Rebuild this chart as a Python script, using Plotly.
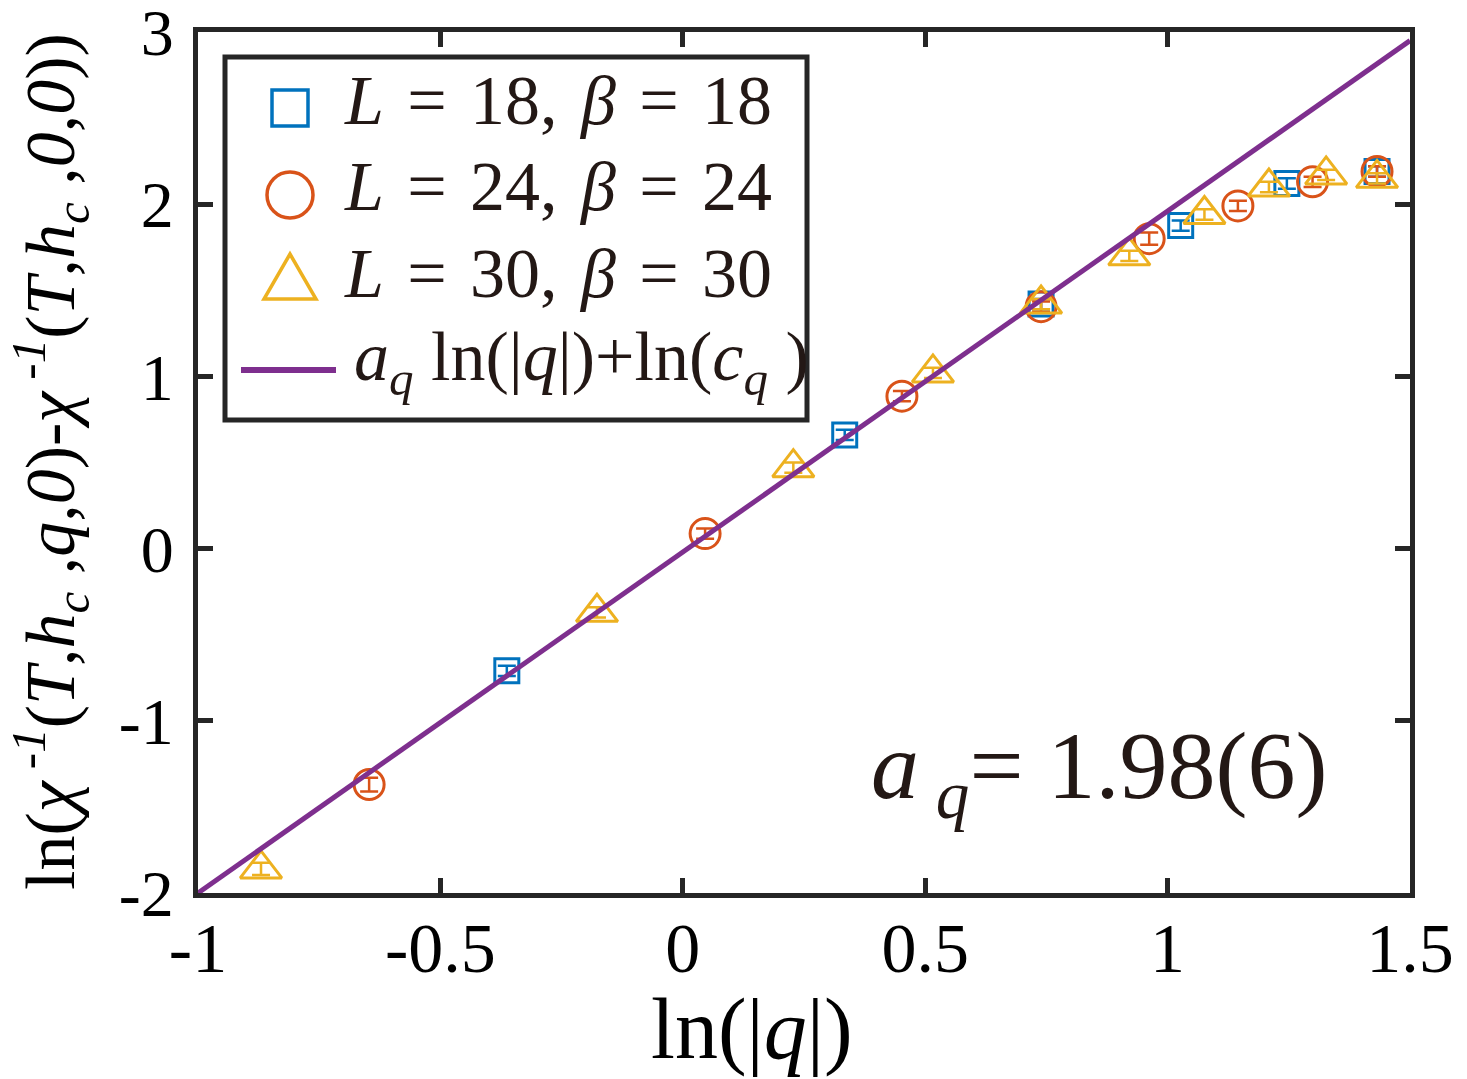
import plotly.graph_objects as go

# ---------------- data ----------------
L18_x = [-0.363, 0.334, 0.739, 1.027, 1.246, 1.432]
L18_y = [-0.71, 0.66, 1.42, 1.876, 2.12, 2.19]
L18_err = [0.03, 0.03, 0.03, 0.03, 0.03, 0.03]

L24_x = [-0.647, 0.046, 0.452, 0.739, 0.962, 1.145, 1.299, 1.432]
L24_y = [-1.37, 0.087, 0.885, 1.405, 1.80, 1.99, 2.13, 2.19]
L24_err = [0.04, 0.03, 0.03, 0.03, 0.035, 0.03, 0.03, 0.03]

L30_x = [-0.870, -0.177, 0.228, 0.516, 0.739, 0.921, 1.076, 1.209, 1.327, 1.432]
L30_y = [-1.86, -0.37, 0.47, 1.02, 1.42, 1.70, 1.94, 2.10, 2.17, 2.15]
L30_err = [0.035, 0.03, 0.03, 0.03, 0.03, 0.03, 0.03, 0.03, 0.03, 0.03]

fit_x = [-1.0, 1.5]
fit_y = [-2.0, 2.95]

x_ticks = [-1, -0.5, 0, 0.5, 1, 1.5]
x_ticklabels = ["-1", "-0.5", "0", "0.5", "1", "1.5"]
y_ticks = [-2, -1, 0, 1, 2, 3]
y_ticklabels = ["-2", "-1", "0", "1", "2", "3"]

SP = "\u2004"
legend_labels = [
    f"<i>L</i>{SP}={SP}18,{SP}<i>β</i>{SP}={SP}18",
    f"<i>L</i>{SP}={SP}24,{SP}<i>β</i>{SP}={SP}24",
    f"<i>L</i>{SP}={SP}30,{SP}<i>β</i>{SP}={SP}30",
    "<i>a<sub>q</sub></i> ln(|<i>q</i>|)+ln(<i>c<sub>q</sub></i> )",
]

BLUE = "#0072BD"
ORANGE = "#D95319"
YELLOW = "#EDB120"
PURPLE = "#7E2F8E"
FRAME = "#262626"
TXT = "#231815"
FONT = "Liberation Serif"

W, H = 1467, 1079
L_M, R_M, T_M, B_M = 198, 57, 32, 186
PW = W - L_M - R_M
PH = H - T_M - B_M


def px(x):
    return (x - L_M) / PW


def py(y):
    return (H - B_M - y) / PH


fig = go.Figure()


def err(vals, color):
    return dict(type="data", array=vals, visible=True, color=color,
                thickness=2.5, width=9)


fig.add_trace(go.Scatter(
    x=L18_x, y=L18_y, mode="markers", name="L=18",
    error_y=err(L18_err, BLUE),
    marker=dict(symbol="square-open", size=24, color=BLUE, line=dict(width=3, color=BLUE)),
))
fig.add_trace(go.Scatter(
    x=L24_x, y=L24_y, mode="markers", name="L=24",
    error_y=err(L24_err, ORANGE),
    marker=dict(symbol="circle-open", size=30, color=ORANGE, line=dict(width=3, color=ORANGE)),
))
fig.add_trace(go.Scatter(
    x=L30_x, y=L30_y, mode="markers", name="L=30",
    error_y=err(L30_err, YELLOW),
    marker=dict(symbol="triangle-up-open", size=36, color=YELLOW, line=dict(width=3, color=YELLOW)),
))
fig.add_trace(go.Scatter(
    x=fit_x, y=fit_y, mode="lines", name="fit",
    line=dict(color=PURPLE, width=5),
))

axis_common = dict(
    ticks="inside", ticklen=15, tickwidth=5, tickcolor=FRAME,
    showline=True, linewidth=5, linecolor=FRAME, mirror="ticks",
    showgrid=False, zeroline=False, ticklabeloverflow="allow",
    automargin=False,
)
fig.update_xaxes(range=[-1, 1.5], tickvals=x_ticks, ticktext=x_ticklabels,
                 ticklabelstandoff=-10, tickfont=dict(family=FONT, size=70, color="black"),
                 **axis_common)
fig.update_yaxes(range=[-2, 3], tickvals=y_ticks, ticktext=y_ticklabels,
                 ticklabelstandoff=6, tickfont=dict(family=FONT, size=66, color="black"),
                 **axis_common)

shapes = []
annotations = []

# legend box
shapes.append(dict(type="rect", xref="paper", yref="paper",
                   x0=px(225), x1=px(807), y0=py(420), y1=py(57),
                   line=dict(color=FRAME, width=5), fillcolor="white", layer="above"))
# legend markers
shapes.append(dict(type="rect", xref="paper", yref="paper",
                   x0=px(272), x1=px(308), y0=py(126), y1=py(90),
                   line=dict(color=BLUE, width=3.5), layer="above"))
shapes.append(dict(type="circle", xref="paper", yref="paper",
                   x0=px(267), x1=px(313), y0=py(218), y1=py(172),
                   line=dict(color=ORANGE, width=3.5), layer="above"))
shapes.append(dict(type="path", xref="paper", yref="paper",
                   path="M {},{} L {},{} L {},{} Z".format(px(264), py(299), px(316), py(299), px(290), py(254)),
                   line=dict(color=YELLOW, width=3.5), layer="above"))
shapes.append(dict(type="line", xref="paper", yref="paper",
                   x0=px(241), x1=px(336), y0=py(370), y1=py(370),
                   line=dict(color=PURPLE, width=6), layer="above"))

rows = [100, 187, 273, 362]
for i, (lab, yy) in enumerate(zip(legend_labels, rows)):
    annotations.append(dict(
        text=lab, xref="paper", yref="paper", x=px(342 if i < 3 else 352), y=py(yy),
        xanchor="left", yanchor="middle", showarrow=False,
        font=dict(family=FONT, size=70, color=TXT),
    ))

# axis titles
annotations.append(dict(
    text="ln(|<i>q</i>|)", xref="paper", yref="paper", x=px(752), y=py(1029),
    xanchor="center", yanchor="middle", showarrow=False,
    font=dict(family=FONT, size=86, color="black"),
))
annotations.append(dict(
    text=("ln(<i>χ</i><sup> -<i>1</i></sup>(<i>T</i>,<i>h<sub>c</sub></i> ,<i>q</i>,<i>0</i>)"
          "-<i>χ</i><sup> -<i>1</i></sup>(<i>T</i>,<i>h<sub>c</sub></i> ,<i>0</i>,<i>0</i>))"),
    xref="paper", yref="paper", x=px(50), y=py(462), textangle=-90,
    xanchor="center", yanchor="middle", showarrow=False,
    font=dict(family=FONT, size=70, color="black"),
))
annotations.append(dict(
    text="<i>a</i><sub> <i>q</i></sub>= 1.98(6)", xref="paper", yref="paper", x=px(1099), y=py(772),
    xanchor="center", yanchor="middle", showarrow=False,
    font=dict(family=FONT, size=96, color=TXT),
))

fig.update_layout(
    width=W, height=H,
    margin=dict(l=L_M, r=R_M, t=T_M, b=B_M),
    plot_bgcolor="white", paper_bgcolor="white",
    showlegend=False,
    shapes=shapes, annotations=annotations,
)

fig.write_html("out.html")
